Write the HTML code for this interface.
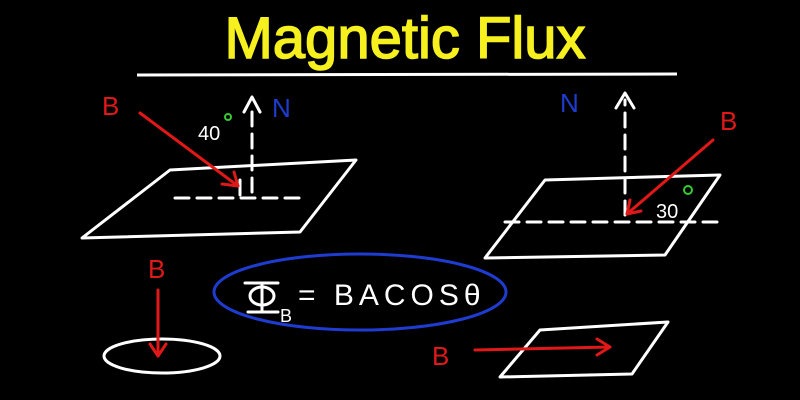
<!DOCTYPE html>
<html><head><style>
html,body{margin:0;padding:0;background:#000;width:800px;height:400px;overflow:hidden}
svg{display:block}
text{font-family:"Liberation Sans",sans-serif}
</style></head><body>
<svg width="800" height="400" viewBox="0 0 800 400">
<rect width="800" height="400" fill="#000"/>
<text x="405" y="58" text-anchor="middle" font-size="58" fill="#f5f01e" stroke="#f5f01e" stroke-width="1.5">Magnetic Flux</text>
<line x1="137" y1="75" x2="677" y2="74" stroke="#fff" stroke-width="3"/>

<g fill="none" stroke="#fff" stroke-width="3" stroke-linecap="round" stroke-linejoin="round">
<path d="M170 170 L356 160 L300 232 L82 238 Z"/>
<path d="M175 198 H305" stroke-dasharray="14 8"/>
<path d="M252 192 V104" stroke-dasharray="14 8"/>
<path d="M244 112 L252 97 L260 112"/>
<path d="M240 180 V195"/>
<path d="M545 180 L720 175 L665 255 L485 258 Z"/>
<path d="M505 222 H722" stroke-dasharray="14 8"/>
<path d="M625 215 V100" stroke-dasharray="14 8"/>
<path d="M616 108 L625 93 L634 108"/>
<ellipse cx="162" cy="356" rx="58" ry="17"/>
<path d="M540 330 L668 322 L632 374 L500 377 Z"/>
</g>

<g fill="none" stroke="#e01818" stroke-width="3" stroke-linecap="round" stroke-linejoin="round">
<path d="M140 113 L238 186"/><path d="M222 184 L238 186 L234 172"/>
<path d="M713 140 L627 214"/><path d="M630 200 L627 214 L641 211"/>
<path d="M158 290 V356"/><path d="M150 344 L158 356 L166 344"/>
<path d="M475 350 L610 347"/><path d="M597 339 L610 347 L597 355"/>
</g>
<g fill="#e01818" font-size="26">
<text x="102" y="115">B</text>
<text x="720" y="130">B</text>
<text x="148" y="278">B</text>
<text x="432" y="365">B</text>
</g>
<g fill="#1e3cd0" font-size="26">
<text x="272" y="117">N</text>
<text x="560" y="112">N</text>
</g>
<g fill="#fff" font-size="20">
<text x="198" y="140">40</text>
<text x="656" y="218">30</text>
</g>
<circle cx="228" cy="117" r="3" fill="none" stroke="#3c3" stroke-width="2"/>
<circle cx="688" cy="190" r="4" fill="none" stroke="#3c3" stroke-width="2"/>

<ellipse cx="360" cy="292" rx="146" ry="38" fill="none" stroke="#1e3cd0" stroke-width="3"/>
<g fill="none" stroke="#fff" stroke-width="3" stroke-linecap="round">
<path d="M245 283 H278"/><path d="M262 283 V312"/><path d="M248 312 H278"/>
<ellipse cx="262" cy="296" rx="12" ry="9"/>
</g>
<text x="280" y="322" fill="#fff" font-size="18">B</text>
<text x="298" y="305" fill="#fff" font-size="30" letter-spacing="5">= BACOSθ</text>
</svg>
</body></html>
